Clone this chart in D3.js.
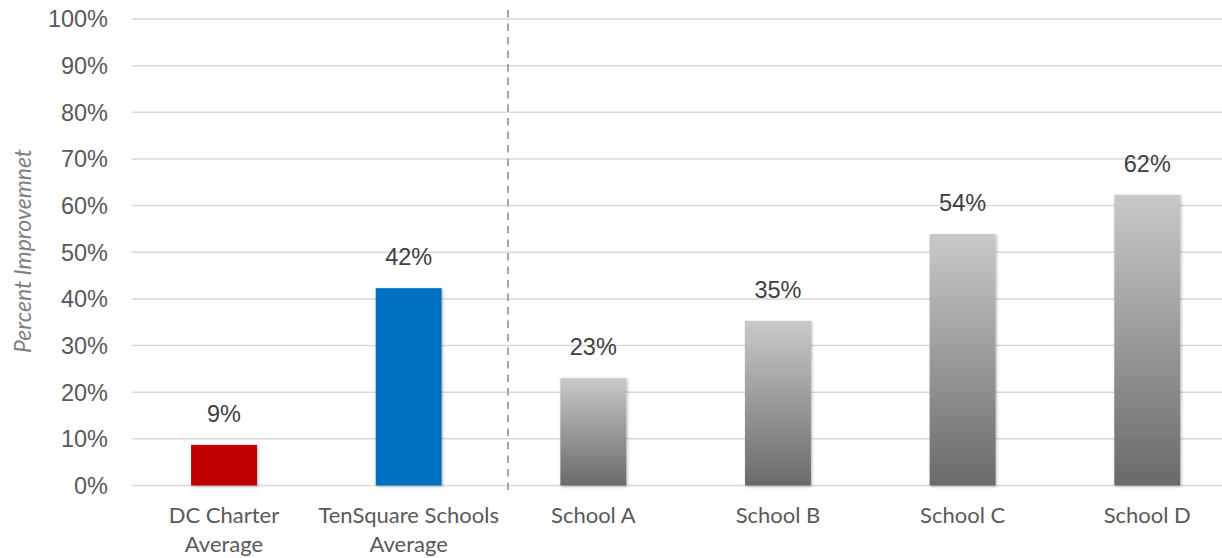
<!DOCTYPE html>
<html>
<head>
<meta charset="utf-8">
<script src="https://cdn.jsdelivr.net/npm/d3@7"></script>
<style>
  html, body { margin: 0; padding: 0; background: #fff; }
  svg { display: block; }
</style>
</head>
<body>
<div id="chart"></div>
<script>
// ---- data ----
const categories = [["DC Charter", "Average"], ["TenSquare Schools", "Average"], ["School A"], ["School B"], ["School C"], ["School D"]];
const categoryKeys = ["DC Charter Average", "TenSquare Schools Average", "School A", "School B", "School C", "School D"];
const values = [0.087, 0.423, 0.23, 0.353, 0.539, 0.623];
const valueLabels = ["9%", "42%", "23%", "35%", "54%", "62%"];
const barKinds = ["red", "blue", "gray", "gray", "gray", "gray"];
const yTicks = [0, 0.1, 0.2, 0.3, 0.4, 0.5, 0.6, 0.7, 0.8, 0.9, 1.0];
const yTitle = "Percent Improvemnet";

// ---- layout ----
const W = 1222, H = 558;
const plotLeft = 131.7, plotRight = 1239.6, plotTop = 19, plotBottom = 485.5;

const svg = d3.select("#chart").append("svg").attr("width", W).attr("height", H);
const defs = svg.append("defs");
const grad = defs.append("linearGradient").attr("id", "grayGrad")
  .attr("x1", 0).attr("y1", 0).attr("x2", 0).attr("y2", 1);
grad.append("stop").attr("offset", "0%").attr("stop-color", "#c9c9c9");
grad.append("stop").attr("offset", "100%").attr("stop-color", "#6a6a6a");
const filt = defs.append("filter").attr("id", "shadow").attr("x", "-20%").attr("y", "-20%").attr("width", "140%").attr("height", "140%");
filt.append("feDropShadow").attr("dx", 1).attr("dy", 1).attr("stdDeviation", 1.8)
  .attr("flood-color", "#000").attr("flood-opacity", 0.3);

const x = d3.scaleBand().domain(categoryKeys).range([plotLeft, plotRight])
  .paddingInner(0.643).paddingOuter(0.3215);
const y = d3.scaleLinear().domain([0, 1]).range([plotBottom, plotTop]);

// gridlines
svg.append("g").selectAll("line").data(yTicks).join("line")
  .attr("x1", plotLeft).attr("x2", W)
  .attr("y1", d => y(d)).attr("y2", d => y(d))
  .attr("stroke", "#d9d9d9").attr("stroke-width", 1.5);

// y tick labels
svg.append("g").selectAll("text").data(yTicks).join("text")
  .attr("x", 108).attr("y", d => y(d))
  .attr("dy", "0.36em")
  .attr("text-anchor", "end")
  .attr("font-family", "'Liberation Sans', Arial, sans-serif")
  .attr("font-size", 23.5)
  .attr("fill", "#595959")
  .text(d => d3.format(".0%")(d));

// y title
svg.append("text")
  .attr("transform", `translate(31,251) rotate(-90)`)
  .attr("text-anchor", "middle")
  .attr("font-family", "Lato, 'Open Sans', sans-serif")
  .attr("font-style", "italic")
  .attr("font-size", 23)
  .attr("fill", "#808080")
  .text(yTitle);

// dashed separator (band boundary between group averages and schools)
const sepX = x("School A") - (x.step() - x.bandwidth()) / 2 + 7;
svg.append("line")
  .attr("x1", sepX).attr("x2", sepX)
  .attr("y1", 10).attr("y2", 491)
  .attr("stroke", "#a6a6a6").attr("stroke-width", 2)
  .attr("stroke-dasharray", "7.5,6");

const fills = { red: "#c00000", blue: "#0070c0", gray: "url(#grayGrad)" };

// bars
svg.append("g").selectAll("rect").data(values).join("rect")
  .attr("x", (d, i) => x(categoryKeys[i]))
  .attr("y", d => y(d))
  .attr("width", x.bandwidth())
  .attr("height", d => plotBottom - y(d))
  .attr("fill", (d, i) => fills[barKinds[i]])
  .attr("filter", "url(#shadow)");

// value labels
svg.append("g").selectAll("text").data(values).join("text")
  .attr("x", (d, i) => x(categoryKeys[i]) + x.bandwidth() / 2)
  .attr("y", d => y(d) - 23)
  .attr("text-anchor", "middle")
  .attr("font-family", "'Liberation Sans', Arial, sans-serif")
  .attr("font-size", 23.5)
  .attr("fill", "#404040")
  .text((d, i) => valueLabels[i]);

// x labels
const xl = svg.append("g").selectAll("text").data(categories).join("text")
  .attr("x", (d, i) => x(categoryKeys[i]) + x.bandwidth() / 2)
  .attr("y", 523)
  .attr("text-anchor", "middle")
  .attr("font-family", "Lato, 'Open Sans', sans-serif")
  .attr("font-size", 22)
  .attr("fill", "#595959");
xl.each(function(lines, i) {
  const t = d3.select(this);
  lines.forEach((ln, j) => {
    t.append("tspan")
      .attr("x", x(categoryKeys[i]) + x.bandwidth() / 2)
      .attr("y", 523 + j * 29)
      .text(ln);
  });
});
</script>
</body>
</html>
